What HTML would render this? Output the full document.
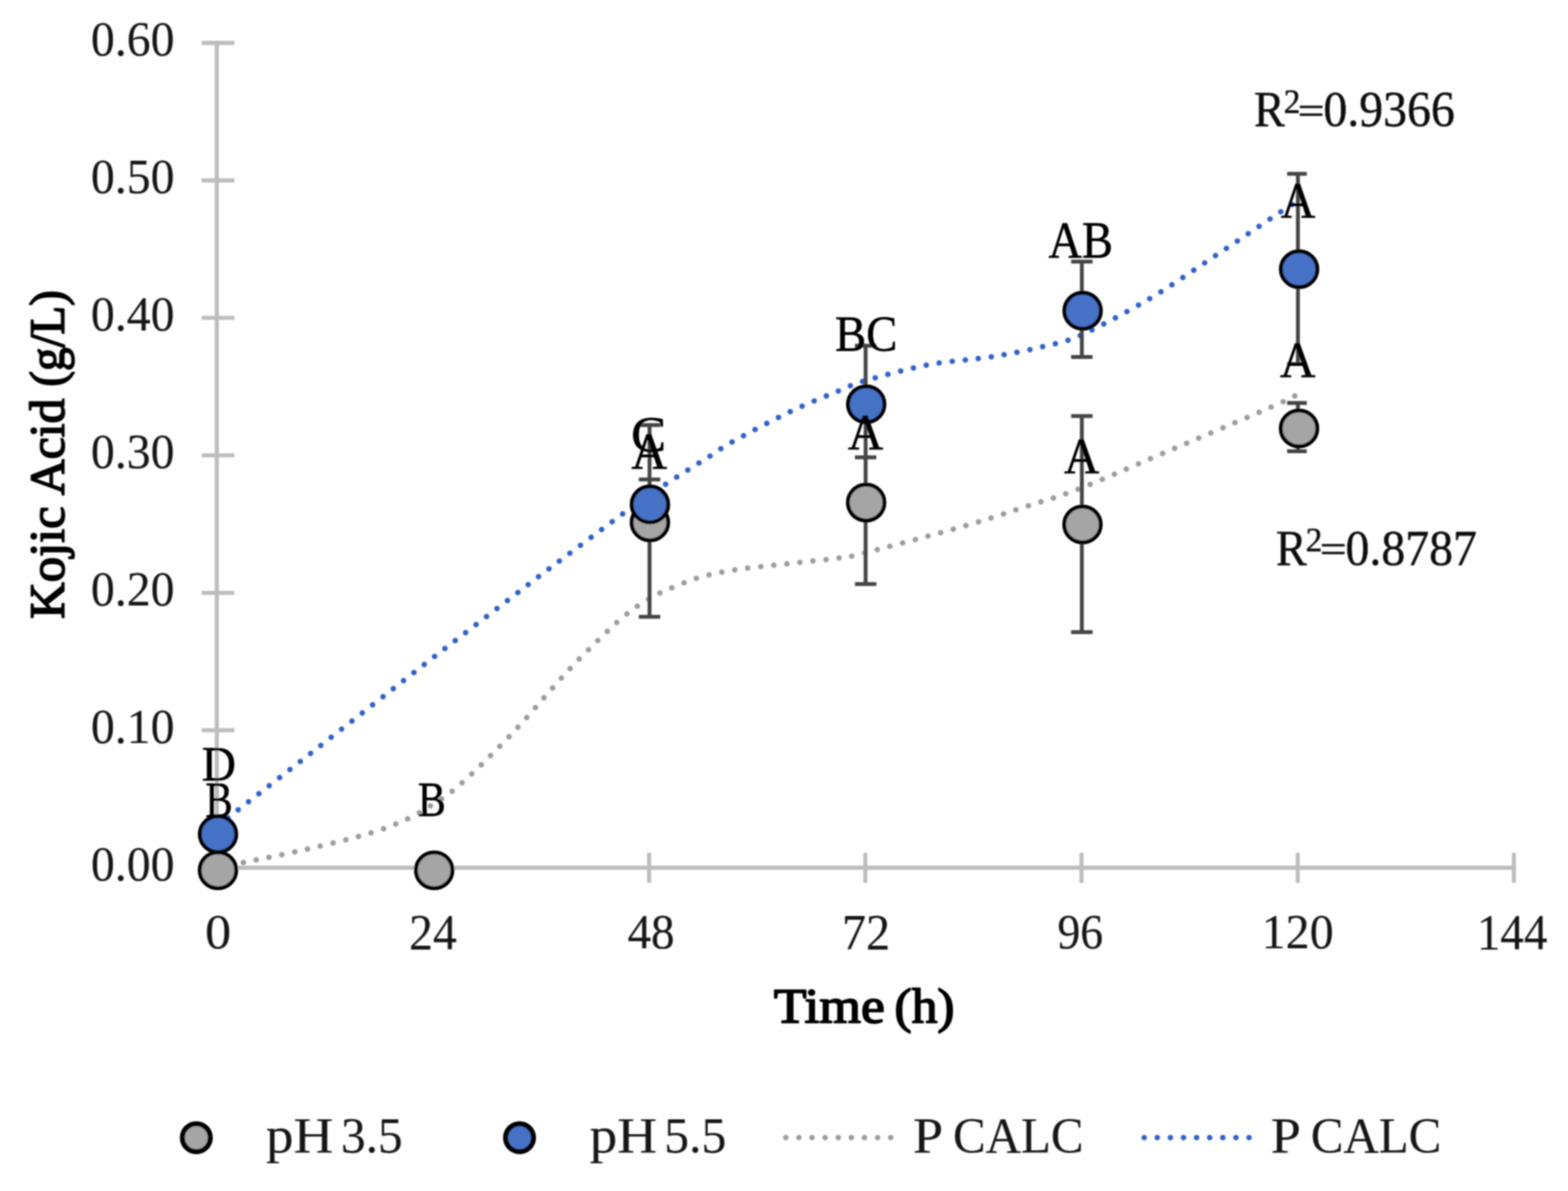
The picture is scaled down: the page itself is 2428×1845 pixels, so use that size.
<!DOCTYPE html>
<html lang="en"><head><meta charset="utf-8"><title>Kojic Acid (g/L) vs Time (h)</title>
<style>html,body{margin:0;padding:0;background:#fff}body{width:2428px;height:1845px;overflow:hidden}svg{display:block}</style>
</head><body>
<svg width="2428" height="1845" viewBox="0 0 2428 1845" font-family="'Liberation Serif', serif" font-size="100" role="img" aria-label="Kojic acid production over time at pH 3.5 and pH 5.5">
<defs><filter id="soft" x="0" y="0" width="2428" height="1845" filterUnits="userSpaceOnUse"><feGaussianBlur stdDeviation="1.0"/></filter></defs>
<rect width="2428" height="1845" fill="#fff"/>
<g filter="url(#soft)">
<!-- axes -->
<g stroke="#bdbdbd" stroke-width="6.4" fill="none">
<line x1="335.7" y1="63.3" x2="335.7" y2="1347.5"/>
<line x1="332.5" y1="1344.3" x2="2347.4" y2="1344.3"/>
<line x1="312.3" y1="1131.3" x2="363" y2="1131.3"/>
<line x1="312.3" y1="918.4" x2="363" y2="918.4"/>
<line x1="312.3" y1="705.4" x2="363" y2="705.4"/>
<line x1="312.3" y1="492.4" x2="363" y2="492.4"/>
<line x1="312.3" y1="279.5" x2="363" y2="279.5"/>
<line x1="312.3" y1="66.5" x2="363" y2="66.5"/>
<line x1="670.5" y1="1321" x2="670.5" y2="1367.6"/>
<line x1="1005.2" y1="1321" x2="1005.2" y2="1367.6"/>
<line x1="1340.0" y1="1321" x2="1340.0" y2="1367.6"/>
<line x1="1674.7" y1="1321" x2="1674.7" y2="1367.6"/>
<line x1="2009.5" y1="1321" x2="2009.5" y2="1367.6"/>
<line x1="2344.2" y1="1321" x2="2344.2" y2="1367.6"/>
</g>
<!-- predicted curves -->
<g fill="none" stroke-width="8.6" stroke-linecap="round" stroke-dasharray="0.01 20.29">
<path d="M337.0 1344.0C343.6 1342.7 353.6 1340.9 376.8 1336.1C400.0 1331.3 443.4 1322.8 476.4 1315.2C509.4 1307.6 548.8 1298.0 574.6 1290.2C600.4 1282.4 615.7 1275.5 631.1 1268.5C646.5 1261.5 655.4 1255.4 666.9 1248.2C678.4 1241.0 687.3 1236.1 700.3 1225.6C713.3 1215.0 728.0 1201.4 745.0 1184.9C762.0 1168.4 783.5 1146.5 802.0 1126.6C820.5 1106.7 840.0 1083.1 855.8 1065.5C871.6 1047.9 880.5 1037.7 897.0 1020.8C913.5 1003.9 940.1 977.9 955.1 964.3C970.1 950.7 978.7 945.1 986.8 939.1C994.9 933.1 998.1 931.9 1003.9 928.5C1009.7 925.1 1009.2 924.1 1021.6 918.7C1034.0 913.3 1059.3 901.9 1078.6 895.9C1097.9 889.9 1114.1 886.6 1137.4 882.9C1160.7 879.1 1191.5 876.5 1218.3 873.4C1245.1 870.3 1278.4 867.3 1298.4 864.5C1318.4 861.7 1305.6 865.1 1338.3 856.7C1371.0 848.4 1452.4 826.6 1494.8 814.4C1537.2 802.2 1563.3 792.9 1592.5 783.4C1621.7 773.9 1635.3 771.1 1669.9 757.6C1704.5 744.1 1750.2 723.8 1799.9 702.6C1849.6 681.5 1933.2 646.0 1968.1 630.7C2003.0 615.4 2002.6 614.3 2009.5 611.0" stroke="#9d9d9d"/>
<path d="M337.0 1279.5C342.5 1275.2 348.5 1270.4 370.0 1253.6C391.5 1236.8 420.8 1214.1 466.1 1178.7C511.4 1143.3 601.9 1072.3 641.9 1041.1C681.9 1009.9 676.5 1014.2 706.0 991.5C735.5 968.8 794.8 923.4 818.9 904.9C843.0 886.4 826.2 899.0 850.6 880.8C875.0 862.6 934.8 817.5 965.1 795.5C995.4 773.5 1009.9 764.0 1032.4 749.1C1054.9 734.2 1083.0 716.9 1100.0 706.1C1117.0 695.3 1113.5 695.8 1134.2 684.3C1154.9 672.8 1196.9 650.5 1224.3 637.4C1251.7 624.3 1279.3 613.5 1298.4 605.6C1317.5 597.7 1316.0 596.7 1338.8 590.0C1361.6 583.3 1405.6 571.3 1435.1 565.5C1464.6 559.7 1495.6 558.0 1515.7 555.3C1535.8 552.6 1539.3 552.4 1555.9 549.3C1572.5 546.2 1595.7 541.8 1615.3 536.8C1634.9 531.8 1646.1 531.6 1673.7 519.2C1701.3 506.8 1746.1 482.8 1780.9 462.2C1815.7 441.6 1848.9 418.0 1882.6 395.7C1916.3 373.4 1961.8 342.3 1983.0 328.2C2004.2 314.1 2005.1 313.9 2009.5 311.0" stroke="#3062c8"/>
</g>
<!-- error bars -->
<g stroke="#444444" stroke-width="6.0" fill="none">
<path d="M1005.8 658.4V955.4M989.2 658.4H1022.4M989.2 742.8H1022.4M989.2 955.4H1022.4"/>
<path d="M1340.4 535.4V904.7M1323.8 535.4H1357.0M1323.8 708.6H1357.0M1323.8 904.7H1357.0"/>
<path d="M1675.2 405.2V553.1M1658.6 405.2H1691.8M1658.6 553.1H1691.8"/>
<path d="M1675.2 644.4V979.3M1658.6 644.4H1691.8M1658.6 979.3H1691.8"/>
<path d="M2009.8 269.2V564M1993.1 269.2H2023.5M1993.1 564H2023.5"/>
<path d="M2009.8 624.3V698.9M1993.1 624.3H2023.5M1993.1 698.9H2023.5"/>
</g>
<!-- markers -->
<g stroke="#000" stroke-width="6.0">
<g fill="#a5a5a5"><ellipse cx="337.5" cy="1348.3" rx="28.3" ry="27.8"/><ellipse cx="672.3" cy="1348.3" rx="28.3" ry="27.8"/><ellipse cx="1006.4" cy="809.2" rx="28.3" ry="27.8"/><ellipse cx="1341.2" cy="778.6" rx="28.3" ry="27.8"/><ellipse cx="1676.2" cy="812.5" rx="28.3" ry="27.8"/><ellipse cx="2011.5" cy="663.7" rx="28.3" ry="27.8"/></g>
<g fill="#4472c4"><ellipse cx="337.6" cy="1292.2" rx="28.3" ry="27.8"/><ellipse cx="1006.4" cy="781.4" rx="28.3" ry="27.8"/><ellipse cx="1341.3" cy="626.3" rx="28.3" ry="27.8"/><ellipse cx="1676.4" cy="481.4" rx="28.3" ry="27.8"/><ellipse cx="2011.6" cy="417.0" rx="28.3" ry="27.8"/></g>
</g>
<!-- y axis labels -->
<text transform="translate(0 86.33) scale(1 0.7662)" stroke="#161616" stroke-width="0.3" stroke-linejoin="round" fill="#161616"><tspan x="140.84" textLength="129.42" lengthAdjust="spacingAndGlyphs">0.60</tspan></text>
<text transform="translate(0 299.30) scale(1 0.7662)" stroke="#161616" stroke-width="0.3" stroke-linejoin="round" fill="#161616"><tspan x="140.84" textLength="129.42" lengthAdjust="spacingAndGlyphs">0.50</tspan></text>
<text transform="translate(0 512.27) scale(1 0.7662)" stroke="#161616" stroke-width="0.3" stroke-linejoin="round" fill="#161616"><tspan x="140.84" textLength="129.42" lengthAdjust="spacingAndGlyphs">0.40</tspan></text>
<text transform="translate(0 725.24) scale(1 0.7662)" stroke="#161616" stroke-width="0.3" stroke-linejoin="round" fill="#161616"><tspan x="140.84" textLength="129.42" lengthAdjust="spacingAndGlyphs">0.30</tspan></text>
<text transform="translate(0 938.21) scale(1 0.7662)" stroke="#161616" stroke-width="0.3" stroke-linejoin="round" fill="#161616"><tspan x="140.84" textLength="129.42" lengthAdjust="spacingAndGlyphs">0.20</tspan></text>
<text transform="translate(0 1151.18) scale(1 0.7662)" stroke="#161616" stroke-width="0.3" stroke-linejoin="round" fill="#161616"><tspan x="140.84" textLength="129.42" lengthAdjust="spacingAndGlyphs">0.10</tspan></text>
<text transform="translate(0 1364.15) scale(1 0.7662)" stroke="#161616" stroke-width="0.3" stroke-linejoin="round" fill="#161616"><tspan x="140.84" textLength="129.42" lengthAdjust="spacingAndGlyphs">0.00</tspan></text>
<!-- x axis labels -->
<text transform="translate(0 1469.04) scale(1 0.7644)" stroke="#161616" stroke-width="0.3" stroke-linejoin="round" fill="#161616"><tspan x="317.56" textLength="40.48" lengthAdjust="spacingAndGlyphs">0</tspan></text>
<text transform="translate(0 1469.80) scale(1 0.7818)" stroke="#161616" stroke-width="0.3" stroke-linejoin="round" fill="#161616"><tspan x="633.59" textLength="73.62" lengthAdjust="spacingAndGlyphs">24</tspan></text>
<text transform="translate(0 1469.04) scale(1 0.7644)" stroke="#161616" stroke-width="0.3" stroke-linejoin="round" fill="#161616"><tspan x="971.64" textLength="72.98" lengthAdjust="spacingAndGlyphs">48</tspan></text>
<text transform="translate(0 1469.80) scale(1 0.7818)" stroke="#161616" stroke-width="0.3" stroke-linejoin="round" fill="#161616"><tspan x="1303.65" textLength="74.66" lengthAdjust="spacingAndGlyphs">72</tspan></text>
<text transform="translate(0 1469.03) scale(1 0.7701)" stroke="#161616" stroke-width="0.3" stroke-linejoin="round" fill="#161616"><tspan x="1637.48" textLength="70.74" lengthAdjust="spacingAndGlyphs">96</tspan></text>
<text transform="translate(0 1469.04) scale(1 0.7644)" stroke="#161616" stroke-width="0.3" stroke-linejoin="round" fill="#161616"><tspan x="1953.61" textLength="111.46" lengthAdjust="spacingAndGlyphs">120</tspan></text>
<text transform="translate(0 1469.80) scale(1 0.7878)" stroke="#161616" stroke-width="0.3" stroke-linejoin="round" fill="#161616"><tspan x="2286.95" textLength="109.14" lengthAdjust="spacingAndGlyphs">144</tspan></text>
<!-- axis titles -->
<text transform="translate(0 1583.60) scale(1 0.7631)" stroke="#000" stroke-width="3.2" stroke-linejoin="round" fill="#000"><tspan x="1198.14" textLength="171.98" lengthAdjust="spacingAndGlyphs">Time</tspan> <tspan x="1385.12" textLength="92.85" lengthAdjust="spacingAndGlyphs">(h)</tspan></text>
<text transform="translate(98.4 0) rotate(-90) translate(0 0.00) scale(1 0.7600)" stroke="#000" stroke-width="3.2" stroke-linejoin="round" fill="#000"><tspan x="-958.86" textLength="174.55" lengthAdjust="spacingAndGlyphs">Kojic</tspan> <tspan x="-767.27" textLength="149.84" lengthAdjust="spacingAndGlyphs">Acid</tspan> <tspan x="-598.97" textLength="149.53" lengthAdjust="spacingAndGlyphs">(g/L)</tspan></text>
<!-- data labels -->
<text transform="translate(0 1209.20) scale(1 0.7603)" stroke="#000" stroke-width="1.0" stroke-linejoin="round" fill="#000"><tspan x="312.61" textLength="52.78" lengthAdjust="spacingAndGlyphs">D</tspan></text>
<text transform="translate(0 1265.00) scale(1 0.7740)" stroke="#000" stroke-width="1.0" stroke-linejoin="round" fill="#000"><tspan x="317.90" textLength="42.28" lengthAdjust="spacingAndGlyphs">B</tspan></text>
<text transform="translate(0 1263.60) scale(1 0.7664)" stroke="#000" stroke-width="1.0" stroke-linejoin="round" fill="#000"><tspan x="647.05" textLength="43.30" lengthAdjust="spacingAndGlyphs">B</tspan></text>
<text transform="translate(0 699.02) scale(1 0.7806)" stroke="#000" stroke-width="1.0" stroke-linejoin="round" fill="#000"><tspan x="977.34" textLength="54.30" lengthAdjust="spacingAndGlyphs">C</tspan></text>
<text transform="translate(0 726.10) scale(1 0.7939)" stroke="#000" stroke-width="1.0" stroke-linejoin="round" fill="#000"><tspan x="977.63" textLength="55.52" lengthAdjust="spacingAndGlyphs">A</tspan></text>
<text transform="translate(0 543.22) scale(1 0.7806)" stroke="#000" stroke-width="1.0" stroke-linejoin="round" fill="#000"><tspan x="1293.13" textLength="96.47" lengthAdjust="spacingAndGlyphs">BC</tspan></text>
<text transform="translate(0 695.40) scale(1 0.7817)" stroke="#000" stroke-width="1.0" stroke-linejoin="round" fill="#000"><tspan x="1313.04" textLength="54.70" lengthAdjust="spacingAndGlyphs">A</tspan></text>
<text transform="translate(0 398.70) scale(1 0.7954)" stroke="#000" stroke-width="1.0" stroke-linejoin="round" fill="#000"><tspan x="1623.58" textLength="99.75" lengthAdjust="spacingAndGlyphs">AB</tspan></text>
<text transform="translate(0 732.40) scale(1 0.7832)" stroke="#000" stroke-width="1.0" stroke-linejoin="round" fill="#000"><tspan x="1647.44" textLength="54.80" lengthAdjust="spacingAndGlyphs">A</tspan></text>
<text transform="translate(0 336.40) scale(1 0.7878)" stroke="#000" stroke-width="1.0" stroke-linejoin="round" fill="#000"><tspan x="1983.26" textLength="53.47" lengthAdjust="spacingAndGlyphs">A</tspan></text>
<text transform="translate(0 583.00) scale(1 0.7725)" stroke="#000" stroke-width="1.0" stroke-linejoin="round" fill="#000"><tspan x="1982.04" textLength="54.91" lengthAdjust="spacingAndGlyphs">A</tspan></text>
<!-- R squared annotations -->
<text transform="translate(0 195.30) scale(1 0.7878)" stroke="#0a0a0a" stroke-width="0.8" stroke-linejoin="round" fill="#0a0a0a"><tspan x="1941.66" textLength="47.69" lengthAdjust="spacingAndGlyphs">R</tspan><tspan x="1987.67" dy="-26.15" font-size="68.1" textLength="25.88" lengthAdjust="spacingAndGlyphs">2</tspan><tspan x="2009.28" dy="21.41" font-size="77.2" textLength="41.97" lengthAdjust="spacingAndGlyphs">=</tspan><tspan x="2049.34" dy="4.74" font-size="98.8" textLength="203.48" lengthAdjust="spacingAndGlyphs">0.9366</tspan></text>
<text transform="translate(0 874.60) scale(1 0.7878)" stroke="#0a0a0a" stroke-width="0.8" stroke-linejoin="round" fill="#0a0a0a"><tspan x="1975.86" textLength="47.69" lengthAdjust="spacingAndGlyphs">R</tspan><tspan x="2021.87" dy="-26.15" font-size="68.1" textLength="25.88" lengthAdjust="spacingAndGlyphs">2</tspan><tspan x="2043.48" dy="21.41" font-size="77.2" textLength="41.97" lengthAdjust="spacingAndGlyphs">=</tspan><tspan x="2083.54" dy="4.74" font-size="98.8" textLength="203.48" lengthAdjust="spacingAndGlyphs">0.8787</tspan></text>
<!-- legend -->
<g stroke="#000" stroke-width="7.8"><circle cx="304" cy="1762.4" r="21.6" fill="#a5a5a5"/><circle cx="804.5" cy="1762.4" r="21.6" fill="#4472c4"/></g>
<text transform="translate(0 1784.80) scale(1 0.7908)" stroke="#161616" stroke-width="0.3" stroke-linejoin="round" fill="#161616"><tspan x="411.72" textLength="104.61" lengthAdjust="spacingAndGlyphs">pH</tspan> <tspan x="528.09" textLength="95.37" lengthAdjust="spacingAndGlyphs">3.5</tspan></text>
<text transform="translate(0 1784.80) scale(1 0.7908)" stroke="#161616" stroke-width="0.3" stroke-linejoin="round" fill="#161616"><tspan x="912.92" textLength="104.61" lengthAdjust="spacingAndGlyphs">pH</tspan> <tspan x="1028.48" textLength="96.20" lengthAdjust="spacingAndGlyphs">5.5</tspan></text>
<g fill="none" stroke-width="8.6" stroke-linecap="round" stroke-dasharray="0.01 20.29">
<path d="M1216.8 1762.2H1380" stroke="#9d9d9d"/>
<path d="M1771.7 1762.2H1935" stroke="#3062c8"/>
</g>
<text transform="translate(0 1784.50) scale(1 0.7924)" stroke="#161616" stroke-width="0.3" stroke-linejoin="round" fill="#161616"><tspan x="1413.78" textLength="46.67" lengthAdjust="spacingAndGlyphs">P</tspan> <tspan x="1475.67" textLength="202.05" lengthAdjust="spacingAndGlyphs">CALC</tspan></text>
<text transform="translate(0 1784.50) scale(1 0.7924)" stroke="#161616" stroke-width="0.3" stroke-linejoin="round" fill="#161616"><tspan x="1967.88" textLength="46.67" lengthAdjust="spacingAndGlyphs">P</tspan> <tspan x="2029.77" textLength="202.05" lengthAdjust="spacingAndGlyphs">CALC</tspan></text>
</g>
</svg>
</body></html>
